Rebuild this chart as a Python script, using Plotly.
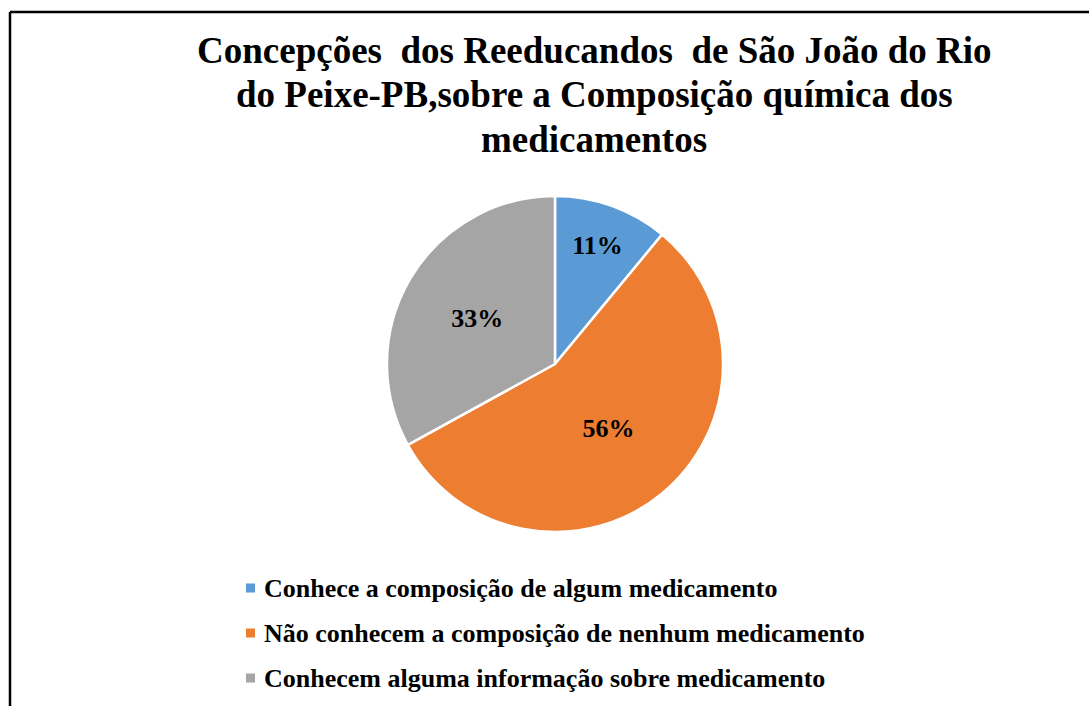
import plotly.graph_objects as go

# dados do gráfico
categorias = [
    "Conhece a composição de algum medicamento",
    "Não conhecem a composição de nenhum medicamento",
    "Conhecem alguma informação sobre medicamento",
]
percentuais = [11, 56, 33]
cores = ["#5B9BD5", "#ED7D31", "#A5A5A5"]

linhas_titulo = [
    "Concepções\u00a0 dos Reeducandos\u00a0 de São João do Rio",
    "do Peixe-PB,sobre a Composição química dos",
    "medicamentos",
]

W, H = 1089, 706
fonte = "Liberation Serif, Times New Roman, serif"

fig = go.Figure()
fig.add_trace(go.Pie(
    labels=categorias,
    values=percentuais,
    marker=dict(colors=cores, line=dict(color="white", width=2.5)),
    sort=False,
    direction="clockwise",
    rotation=0,
    texttemplate="<b>%{percent:.0%}</b>",
    textposition="inside",
    insidetextorientation="horizontal",
    textfont=dict(family=fonte, size=26, color="black"),
    hoverinfo="label+percent",
    showlegend=False,
    domain=dict(x=[387 / W, 723 / W], y=[1 - 532 / H, 1 - 196 / H]),
))

anotacoes = []
# título, uma linha por anotação
for i, linha in enumerate(linhas_titulo):
    anotacoes.append(dict(
        text="<b>" + linha + "</b>",
        x=594 / W, y=1 - (50 + 45 * i) / H, xref="paper", yref="paper",
        xanchor="center", yanchor="middle", showarrow=False,
        font=dict(family=fonte, size=37, color="black"),
    ))

formas = [
    # moldura
    dict(type="line", xref="paper", yref="paper",
         x0=10 / W, x1=10 / W, y0=0, y1=1 - 12 / H,
         line=dict(color="black", width=2.5)),
    dict(type="line", xref="paper", yref="paper",
         x0=10 / W, x1=1, y0=1 - 12 / H, y1=1 - 12 / H,
         line=dict(color="black", width=2.5)),
]
# legenda desenhada à parte para manter o espaçamento do original
for i, (nome, cor) in enumerate(zip(categorias, cores)):
    yc = 588 + 45 * i
    formas.append(dict(type="rect", xref="paper", yref="paper",
                       x0=246 / W, x1=255 / W,
                       y0=1 - (yc + 4.5) / H, y1=1 - (yc - 4.5) / H,
                       fillcolor=cor, line=dict(width=0)))
    anotacoes.append(dict(
        text="<b>" + nome + "</b>", x=262 / W, y=1 - yc / H,
        xref="paper", yref="paper", xanchor="left", yanchor="middle",
        showarrow=False, font=dict(family=fonte, size=26, color="black"),
    ))

fig.update_layout(
    width=W, height=H,
    margin=dict(l=0, r=0, t=0, b=0),
    paper_bgcolor="white",
    plot_bgcolor="white",
    annotations=anotacoes,
    shapes=formas,
)

fig.write_html("out.html", config={"displayModeBar": False},
               post_script="document.body.style.margin='0';")
